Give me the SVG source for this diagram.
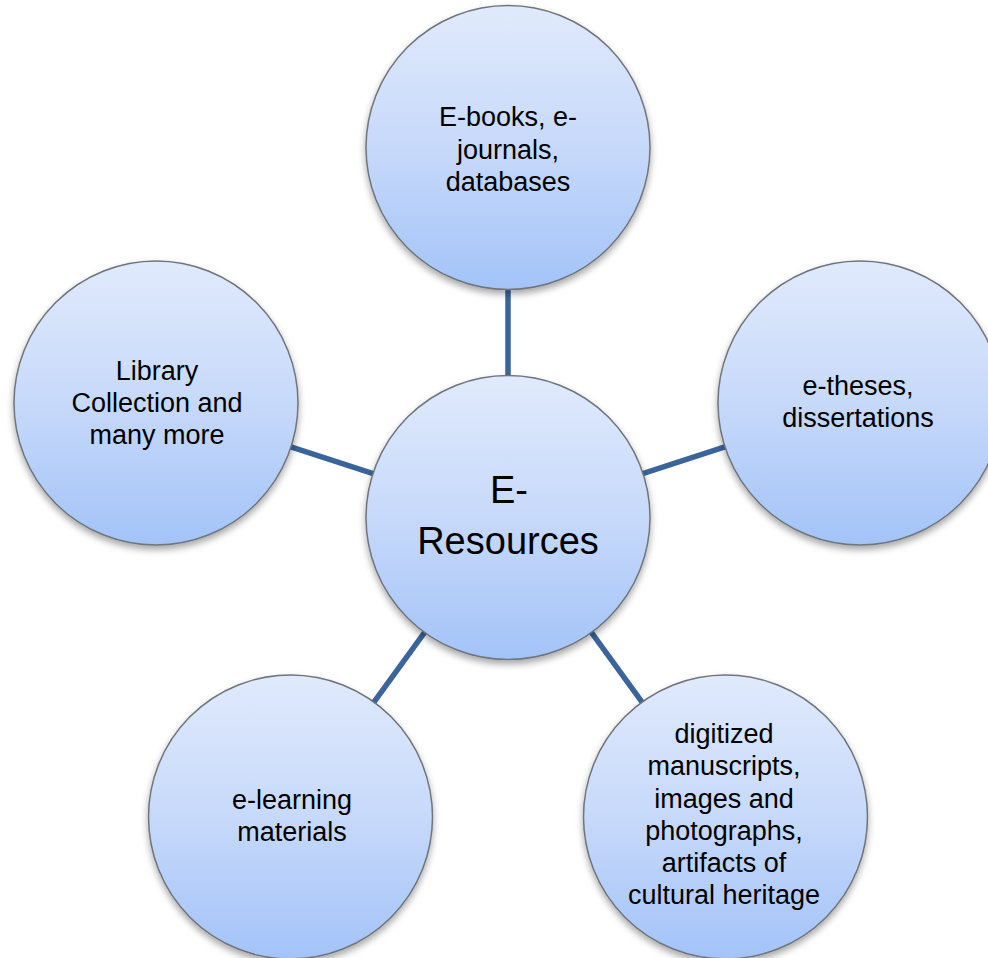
<svg xmlns="http://www.w3.org/2000/svg" width="988" height="958" viewBox="0 0 988 958">
  <defs>
    <linearGradient id="fillGrad" x1="0" y1="0" x2="0" y2="1">
      <stop offset="0" stop-color="#e0eafc"/>
      <stop offset="0.5" stop-color="#c7d9fa"/>
      <stop offset="1" stop-color="#a3c3f8"/>
    </linearGradient>
    <filter id="shadow" x="-20%" y="-20%" width="140%" height="145%">
      <feDropShadow dx="0" dy="4" stdDeviation="3.5" flood-color="#000" flood-opacity="0.35"/>
    </filter>
  </defs>
  <style>
    .node circle { fill: url(#fillGrad); stroke: #6f747c; stroke-width: 1.5; filter: url(#shadow); }
    .node text { font-family: "Liberation Sans", Arial, sans-serif; font-size: 27px; fill: #000; text-anchor: middle; }
    .node text.big { font-size: 38px; }
    .connectors line { stroke: #3b659a; stroke-width: 5.5; }
  </style>
  <rect width="988" height="958" fill="#ffffff"/>
  <g class="connectors" id="connectors">
    <line x1="508" y1="517.5" x2="508" y2="147.5"/>
    <line x1="508" y1="517.5" x2="860" y2="403"/>
    <line x1="508" y1="517.5" x2="725.5" y2="817"/>
    <line x1="508" y1="517.5" x2="290.5" y2="817"/>
    <line x1="508" y1="517.5" x2="156" y2="403"/>
  </g>
  <g class="node" id="node-center">
    <circle cx="508" cy="517.5" r="142"/>
    <text x="509" y="503" class="big">E-</text>
    <text x="508" y="554" class="big">Resources</text>
  </g>
  <g class="node" id="node-top">
    <circle cx="508" cy="147.5" r="142"/>
    <text x="508" y="126">E-books, e-</text>
    <text x="508" y="159">journals,</text>
    <text x="508" y="191">databases</text>
  </g>
  <g class="node" id="node-right">
    <circle cx="860" cy="403" r="142"/>
    <text x="858" y="395">e-theses,</text>
    <text x="858" y="427">dissertations</text>
  </g>
  <g class="node" id="node-bottom-right">
    <circle cx="725.5" cy="817" r="142"/>
    <text x="724" y="743">digitized</text>
    <text x="724" y="775">manuscripts,</text>
    <text x="724" y="808">images and</text>
    <text x="724" y="840">photographs,</text>
    <text x="724" y="872">artifacts of</text>
    <text x="724" y="904">cultural heritage</text>
  </g>
  <g class="node" id="node-bottom-left">
    <circle cx="290.5" cy="817" r="142"/>
    <text x="292" y="809">e-learning</text>
    <text x="292" y="841">materials</text>
  </g>
  <g class="node" id="node-left">
    <circle cx="156" cy="403" r="142"/>
    <text x="157" y="380">Library</text>
    <text x="157" y="412">Collection and</text>
    <text x="157" y="444">many more</text>
  </g>
</svg>
